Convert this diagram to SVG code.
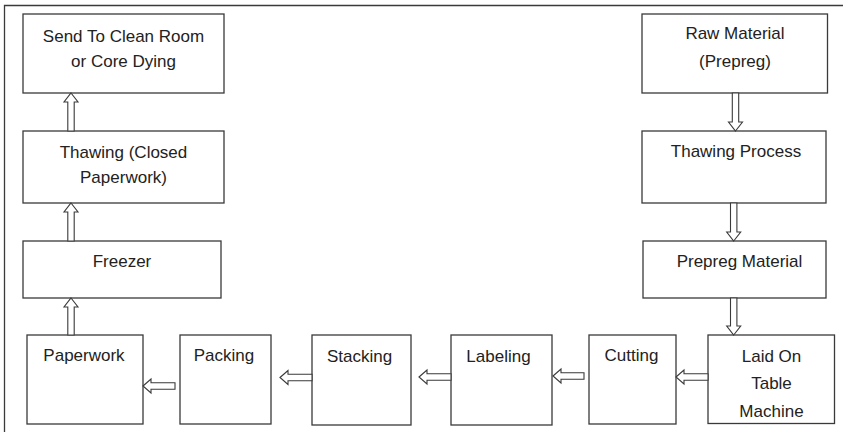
<svg xmlns="http://www.w3.org/2000/svg" width="843" height="432" viewBox="0 0 843 432">
<style>
.box{fill:#fff;stroke:#3a3a3a;stroke-width:1.3}
.frame{fill:none;stroke:#3a3a3a;stroke-width:1.3}
.arr{fill:#fff;stroke:#3a3a3a;stroke-width:1.1;stroke-linejoin:miter}
text{font-family:"Liberation Sans",Arial,sans-serif;font-size:17px;fill:#222;text-anchor:middle}
</style>
<rect width="843" height="432" fill="#fff"/>
<path class="frame" d="M4.5,432 V5.5 H843"/>
<g id="send"><rect class="box" x="23" y="14" width="201" height="79"/><text x="123.5" y="42">Send To Clean Room</text><text x="123.5" y="67">or Core Dying</text></g>
<g id="thawing-closed"><rect class="box" x="23" y="131" width="201" height="72"/><text x="123.5" y="158">Thawing (Closed</text><text x="123.5" y="183">Paperwork)</text></g>
<g id="freezer"><rect class="box" x="23" y="241" width="198" height="57"/><text x="122" y="267">Freezer</text></g>
<g id="paperwork"><rect class="box" x="27" y="335" width="116" height="89"/><text x="84" y="361">Paperwork</text></g>
<g id="packing"><rect class="box" x="180" y="335" width="91" height="89"/><text x="224" y="361">Packing</text></g>
<g id="stacking"><rect class="box" x="312" y="335" width="99" height="90"/><text x="359.5" y="362">Stacking</text></g>
<g id="labeling"><rect class="box" x="451" y="335" width="101" height="90"/><text x="498.5" y="362">Labeling</text></g>
<g id="cutting"><rect class="box" x="589" y="335" width="87" height="89"/><text x="631.5" y="361">Cutting</text></g>
<g id="laid"><rect class="box" x="708" y="335" width="126.5" height="88.5"/><text x="771.5" y="362">Laid On</text><text x="771.5" y="389">Table</text><text x="771.5" y="417">Machine</text></g>
<g id="raw"><rect class="box" x="642" y="14" width="185.5" height="79"/><text x="735" y="39">Raw Material</text><text x="735" y="67">(Prepreg)</text></g>
<g id="thawing-process"><rect class="box" x="642" y="131" width="184" height="72"/><text x="736" y="157">Thawing Process</text></g>
<g id="prepreg"><rect class="box" x="643" y="241" width="183" height="57"/><text x="739.5" y="267">Prepreg Material</text></g>
<g id="connectors">
<path class="arr" d="M71,93 L78,102 L74.2,102 L74.2,131 L67.8,131 L67.8,102 L64,102 Z"/>
<path class="arr" d="M71,203 L78,212 L74.2,212 L74.2,241 L67.8,241 L67.8,212 L64,212 Z"/>
<path class="arr" d="M71,298 L78,307 L74.2,307 L74.2,335 L67.8,335 L67.8,307 L64,307 Z"/>
<path class="arr" d="M735.5,131 L742.5,122 L738.7,122 L738.7,93 L732.3,93 L732.3,122 L728.5,122 Z"/>
<path class="arr" d="M733.7,241 L740.7,232 L736.9,232 L736.9,203 L730.5,203 L730.5,232 L726.7,232 Z"/>
<path class="arr" d="M733.7,335 L740.7,326 L736.9,326 L736.9,298 L730.5,298 L730.5,326 L726.7,326 Z"/>
<path class="arr" d="M143,386 L151,379 L151,382.8 L175,382.8 L175,389.2 L151,389.2 L151,393 Z"/>
<path class="arr" d="M280,377.5 L288,370.5 L288,374.3 L312,374.3 L312,380.7 L288,380.7 L288,384.5 Z"/>
<path class="arr" d="M419,377 L427,370 L427,373.8 L451,373.8 L451,380.2 L427,380.2 L427,384 Z"/>
<path class="arr" d="M553,376 L561,369 L561,372.8 L584,372.8 L584,379.2 L561,379.2 L561,383 Z"/>
<path class="arr" d="M676,377 L684,370 L684,373.8 L708,373.8 L708,380.2 L684,380.2 L684,384 Z"/>
</g>
</svg>
